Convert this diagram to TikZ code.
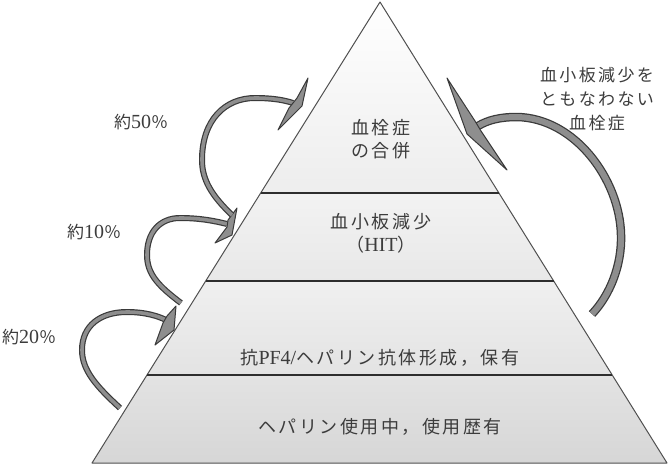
\documentclass[tikz,border=0pt]{standalone}
\usepackage{fontspec}
\newfontfamily\jp[LetterSpace=14]{Noto Sans CJK JP}
\newfontfamily\lat{Liberation Serif}
\usetikzlibrary{calc}
\definecolor{arrowdark}{HTML}{3A3A3A}
\definecolor{arrowgray}{HTML}{8E8E8E}
\definecolor{textcol}{HTML}{3C3C3C}
\definecolor{edgecol}{HTML}{505050}
\definecolor{bandline}{HTML}{2E2E2E}
\newcommand{\ltn}[1]{{\lat\fontsize{20}{23}\selectfont #1}}
\tikzset{
  bandtext/.style={font=\jp\fontsize{18}{23}\selectfont, text=textcol, align=center, inner sep=0pt},
  sidetext/.style={font=\jp\fontsize{17}{24}\selectfont, text=textcol, align=center, inner sep=0pt},
  shaft/.style={draw=arrowgray, line width=3.6pt, preaction={draw=arrowdark, line width=6pt}},
  bigshaft/.style={draw=arrowgray, line width=6pt, preaction={draw=arrowdark, line width=8.5pt}},
  headshape/.style={fill=arrowgray, draw=arrowdark, line width=1pt, line join=round},
  bandsep/.style={draw=bandline, line width=2.6pt},
}
\begin{document}
\begin{tikzpicture}[x=1pt,y=-1pt]
\useasboundingbox (0,0) rectangle (668,472);
% pyramid corners
\coordinate (A) at (380,2);
\coordinate (BL) at (92,463);
\coordinate (BR) at (667,463);
\coordinate (L1) at ($(A)!0.4143!(BL)$);
\coordinate (R1) at ($(A)!0.4143!(BR)$);
\coordinate (L2) at ($(A)!0.6052!(BL)$);
\coordinate (R2) at ($(A)!0.6052!(BR)$);
\coordinate (L3) at ($(A)!0.8091!(BL)$);
\coordinate (R3) at ($(A)!0.8091!(BR)$);
% bands
\shade[top color=white, bottom color=black!7] (A) -- (R1) -- (L1) -- cycle;
\shade[top color=black!5, bottom color=black!9] (L1) -- (R1) -- (R2) -- (L2) -- cycle;
\shade[top color=black!6, bottom color=black!11] (L2) -- (R2) -- (R3) -- (L3) -- cycle;
\shade[top color=black!11, bottom color=black!16] (L3) -- (R3) -- (BR) -- (BL) -- cycle;
\draw[edgecol, line width=1pt, line join=round] (A) -- (BR) -- (BL) -- cycle;
\draw[bandsep] (L1) -- (R1);
\draw[bandsep] (L2) -- (R2);
\draw[bandsep] (L3) -- (R3);
% band texts
\node[bandtext] (t1) at (381,139.5) {血栓症\\の合併};
\node[bandtext] (t2) at (381,233.5) {血小板減少\\（\ltn{HIT}）};
\node[bandtext] (t3) at (380,358) {抗\ltn{PF4/}ヘパリン抗体形成，保有};
\node[bandtext] (t4) at (380,427) {ヘパリン使用中，使用歴有};
% side labels
\node[sidetext] (p50) at (141,122) {約\ltn{50}％};
\node[sidetext] (p10) at (94,232) {約\ltn{10}％};
\node[sidetext] (p20) at (29,337) {約\ltn{20}％};
\node[sidetext] (rl) at (597,99) {血小板減少を\\ともなわない\\血栓症};
% arrow 1 (約20%)
\coordinate (a1s) at (120,408);
\coordinate (a1e) at (166,320);
\draw[shaft] (a1s) .. controls (96,386) and (82,370) .. (82,350)
  .. controls (82,326) and (100,312) .. (127,312)
  .. controls (145,312) and (158,316) .. (a1e);
\filldraw[headshape] (176,306) -- (174,330) -- (155,345) -- (163,323) -- (167,316) -- cycle;
% arrow 2 (約10%)
\coordinate (a2s) at (181,303);
\coordinate (a2e) at (227,224);
\draw[shaft] (a2s) .. controls (160,287) and (147,275) .. (147,255)
  .. controls (147,232) and (160,218) .. (180,218)
  .. controls (200,218) and (215,221) .. (a2e);
\filldraw[headshape] (237,208) -- (232,235) -- (215,243) -- (227,227) -- (228,220) -- cycle;
% arrow 3 (約50%)
\coordinate (a3s) at (232,215);
\coordinate (a3e) at (293,103);
\draw[shaft] (a3s) .. controls (212,196) and (202,180) .. (202,160)
  .. controls (202,120) and (225,98) .. (255,98)
  .. controls (272,98) and (284,100) .. (a3e);
\filldraw[headshape] (308,78) -- (302,106) -- (278,130) -- (289,108) -- (297,98) -- cycle;
% right arrow
\coordinate (ars) at (592,314);
\coordinate (are) at (478,126);
\draw[bigshaft] (ars) .. controls (610,295) and (622,265) .. (621,235)
  .. controls (620,180) and (575,118) .. (517,117)
  .. controls (500,117) and (488,120) .. (are);
\filldraw[headshape] (447,78) -- (475,121) -- (481,131) -- (507,170) -- (467,134) -- cycle;
\end{tikzpicture}
\end{document}
